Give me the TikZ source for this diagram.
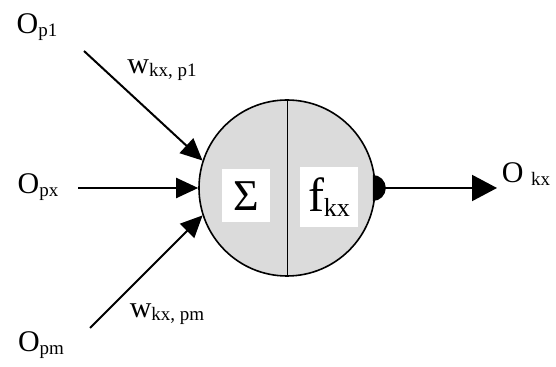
\documentclass[tikz,border=0pt]{standalone}
\usepackage{fontspec}
\setmainfont{Liberation Serif}
\usetikzlibrary{arrows.meta, positioning}
\newcommand{\lowsub}[2][9.5pt]{\raisebox{-0.25ex}{\fontsize{#1}{#1}\selectfont #2}}
\tikzset{
  neuron/.style={
    circle,
    draw=black,
    line width=0.8pt,
    fill=black!14,
    minimum size=88pt,
    inner sep=0pt
  },
  signal/.style={
    font=\fontsize{15pt}{15pt}\selectfont,
    inner sep=1pt
  },
  opbox/.style={
    fill=white,
    inner sep=0pt
  },
  every edge/.style={
    draw=black,
    line width=1pt,
    -{Triangle[length=11pt,width=10pt]}
  }
}

\begin{document}
\begin{tikzpicture}[x=0.5pt, y=-0.5pt]
  \useasboundingbox (0,0) rectangle (556,367);

  \node[neuron] (nrn) at (287,188) {};
  \draw[line width=0.5pt] (nrn.north) -- (nrn.south);
  \fill ([xshift=-1.5pt]nrn.east) ++(0,6.5pt) arc[start angle=90, end angle=-90, radius=6.5pt] -- cycle;
  \node[opbox, minimum width=24pt, minimum height=26.5pt] (sum) at (246,196)
    {\fontsize{22pt}{22pt}\selectfont Σ};
  \node[opbox, minimum width=29pt, minimum height=30pt] (act) at (329,197)
    {\fontsize{24pt}{24pt}\selectfont f\lowsub[13pt]{kx}};

  \node[signal] (op1) at (37,27) {O\lowsub{p1}};
  \node[signal] (opx) at (38,187) {O\lowsub{px}};
  \node[signal] (opm) at (41,345) {O\lowsub{pm}};
  \node[signal] (okx) at (526,174) {O \lowsub{kx}};
  \node[signal] (w1) at (162,70) {w\lowsub{kx, p1}};
  \node[signal] (wm) at (167,314) {w\lowsub{kx, pm}};

  \coordinate (s1) at (84,51);
  \coordinate (sx) at (78,188);
  \coordinate (sm) at (90,328);
  \coordinate (out) at (497,188);

  \path (s1) edge (nrn.162)
        (sx) edge (nrn.west)
        (sm) edge (nrn.198)
        (nrn.east) edge[-{Triangle[length=12.5pt,width=13pt]}] (out);
\end{tikzpicture}
\end{document}
